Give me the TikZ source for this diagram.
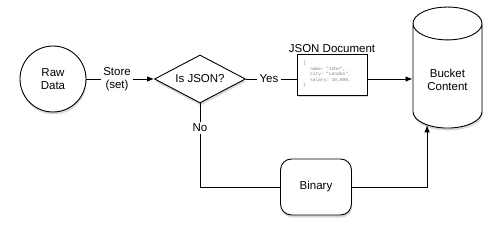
\documentclass[tikz,border=0pt]{standalone}
\usepackage{fontspec}
\setmainfont{Liberation Sans}
\setmonofont{Liberation Mono}
\usetikzlibrary{arrows.meta,shapes.geometric,shadows}

\begin{document}
\begin{tikzpicture}[x=1pt, y=-1pt,
    font=\fontsize{11.5}{13}\selectfont,
    box/.style={draw, line width=0.9pt, fill=white,
      drop shadow={shadow xshift=0.6pt, shadow yshift=-2.5pt, opacity=0.3}},
    lbl/.style={align=center, inner sep=2pt},
    flow/.style={line width=0.8pt},
    arr/.style={flow, -{Latex[length=7pt,width=5.5pt]}}]
  \useasboundingbox (0,0) rectangle (501,238);
  % shapes
  \node[box, circle, minimum size=66pt, align=center] (raw) at (53,79) {Raw\\Data};
  \node[lbl] (store) at (117,79) {Store\\(set)};
  \node[box, diamond, aspect=2, inner sep=0pt,
    minimum width=91pt, minimum height=48pt] (isjson) at (200,79) {Is JSON?};
  \node[lbl] (yes) at (269,79) {Yes};
  \node[box, minimum width=70pt, minimum height=41pt, text width=58pt, inner xsep=6pt,
    align=left, font=\fontsize{4.6}{5.5}\ttfamily\color{gray},
    label={[font=\fontsize{11.5}{13}\selectfont, text=black, inner sep=1pt]above:JSON Document}]
    (doc) at (332,74.5) {\{\\\hspace*{7pt}name: "John",\\\hspace*{7pt}city: "London",\\\hspace*{7pt}salary: 10,000,\\\}};
  \node[box, cylinder, shape border rotate=90, aspect=0.7, minimum width=69pt,
    minimum height=121pt, align=center] (bucket) at (447.5,79.5) {Bucket\\Content};
  \node[lbl] (no) at (200,128) {No};
  \node[box, rounded corners=11pt, minimum width=71pt, minimum height=56pt]
    (binary) at (316,187) {Binary};
  % connectors
  \draw[flow] (raw) -- (store);
  \draw[arr] (store) -- (isjson);
  \draw[flow] (isjson) -- (yes);
  \draw[flow] (yes.east) -- (yes.east -| doc.west);
  \draw[arr] (yes -| doc.east) -- (yes -| bucket.west);
  \draw[flow] (isjson.south) -- (no);
  \draw[flow] (no) |- (binary);
  \draw[arr] (binary) -| (bucket.246);
\end{tikzpicture}
\end{document}
